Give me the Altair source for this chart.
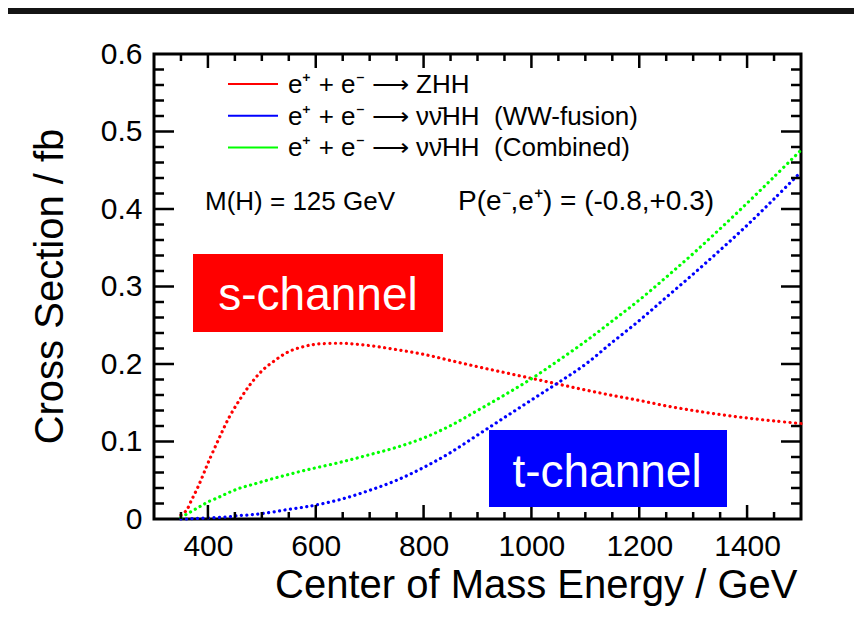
import altair as alt
import pandas as pd

# ---------------- data ----------------
energy = [350, 360, 370, 380, 390, 400, 420, 440, 460, 480, 500, 525, 550, 575, 600,
          650, 700, 750, 800, 850, 900, 950, 1000, 1050, 1100, 1150, 1200, 1250,
          1300, 1350, 1400, 1450, 1500]

zhh = [0.005, 0.011, 0.025, 0.039, 0.055, 0.072, 0.103, 0.132, 0.155, 0.175, 0.191,
       0.205, 0.216, 0.222, 0.2255, 0.2267, 0.2237, 0.2185, 0.2125, 0.2045, 0.1965,
       0.189, 0.1815, 0.174, 0.1665, 0.1595, 0.153, 0.146, 0.140, 0.1348, 0.1303,
       0.1265, 0.1232]

ww_fusion = [0.000, 0.000, 0.0005, 0.0008, 0.001, 0.0015, 0.002, 0.003, 0.0045, 0.0055,
             0.007, 0.0095, 0.0125, 0.015, 0.018, 0.026, 0.037, 0.050, 0.0665, 0.0858,
             0.1083, 0.131, 0.1535, 0.176, 0.1995, 0.228, 0.256, 0.286, 0.316, 0.347,
             0.379, 0.413, 0.448]

combined = [0.002, 0.006, 0.010, 0.014, 0.018, 0.022, 0.028, 0.0345, 0.040, 0.044,
            0.048, 0.053, 0.0575, 0.062, 0.066, 0.074, 0.083, 0.0925, 0.1045, 0.1205,
            0.140, 0.160, 0.181, 0.2045, 0.229, 0.2555, 0.2825, 0.312, 0.3425, 0.3745,
            0.4075, 0.4415, 0.476]

series_names = ["ZHH", "WW-fusion", "Combined"]
series_colors = ["#ff0000", "#0000ff", "#00ff00"]
NB = "\u00a0"
ARROW = "\u27f6"
legend_labels = ["e\u207a + e\u207b " + ARROW + " ZHH",
                 "e\u207a + e\u207b " + ARROW + " \u03bd\u03bd\u0304HH " + NB + "(WW-fusion)",
                 "e\u207a + e\u207b " + ARROW + " \u03bd\u03bd\u0304HH " + NB + "(Combined)"]
info_left = "M(H) = 125 GeV"
info_right = "P(e\u207b,e\u207a) = (-0.8,+0.3)"
box_labels = ["s-channel", "t-channel"]
box_colors = ["#ff0000", "#0000ff"]

x_ticks_major = [400, 600, 800, 1000, 1200, 1400]
x_ticks_minor = [350, 450, 500, 550, 650, 700, 750, 850, 900, 950, 1050, 1100, 1150,
                 1250, 1300, 1350, 1450]
y_ticks_major = [0.1, 0.2, 0.3, 0.4, 0.5]
y_ticks_minor = [0.02, 0.04, 0.06, 0.08, 0.12, 0.14, 0.16, 0.18, 0.22, 0.24, 0.26, 0.28,
                 0.32, 0.34, 0.36, 0.38, 0.42, 0.44, 0.46, 0.48, 0.52, 0.54, 0.56, 0.58]
y_labels = [0, 0.1, 0.2, 0.3, 0.4, 0.5, 0.6]

# ---------------- layout / style ----------------
W, H = 647, 465
FONT = "Liberation Sans"
X_DOMAIN = [300, 1500]
Y_DOMAIN = [0, 0.6]

rows = []
for name, vals in zip(series_names, [zhh, ww_fusion, combined]):
    for e, v in zip(energy, vals):
        rows.append({"E": e, "xs": v, "series": name})
curves_df = pd.DataFrame(rows)

xscale = alt.Scale(domain=X_DOMAIN, nice=False, zero=False)
yscale = alt.Scale(domain=Y_DOMAIN, nice=False, zero=False)
color_scale = alt.Scale(domain=series_names, range=series_colors)

x_axis = alt.Axis(
    values=x_ticks_major, format="d", labelFont=FONT, labelFontSize=30,
    labelColor="black", labelPadding=12, tickSize=0, ticks=False, domain=False,
    grid=False, title="Center of Mass Energy / GeV", titleFont=FONT,
    titleFontSize=40, titleFontWeight="normal", titleColor="black",
    titleAlign="right", titleBaseline="alphabetic", titleX=643, titleY=78)
y_axis = alt.Axis(
    values=y_labels, labelExpr="datum.value == 0 ? '0' : format(datum.value, '.1f')",
    labelFont=FONT, labelFontSize=30, labelColor="black", labelPadding=12,
    tickSize=0, ticks=False, domain=False, grid=False,
    title="Cross Section / fb", titleFont=FONT, titleFontSize=40,
    titleFontWeight="normal", titleColor="black", titleAngle=270,
    titleAlign="center", titleBaseline="alphabetic", titleX=-92, titleY=232)

X_ENC = alt.X("E:Q", scale=xscale, axis=x_axis)
Y_ENC = alt.Y("xs:Q", scale=yscale, axis=y_axis)

curves = alt.Chart(curves_df).mark_line(
    strokeDash=[0.1, 5.4], strokeCap="round", strokeWidth=3.2,
    interpolate="catmull-rom"
).encode(
    x=X_ENC, y=Y_ENC,
    color=alt.Color("series:N", scale=color_scale, legend=None),
    detail="series:N",
)


def ticks_x(vals, length):
    df = pd.DataFrame({"E": vals})
    bottom = alt.Chart(df).mark_rule(color="black", strokeWidth=2.5).encode(
        x=X_ENC, y=alt.value(H), y2=alt.value(H - length))
    top = alt.Chart(df).mark_rule(color="black", strokeWidth=2.5).encode(
        x=X_ENC, y=alt.value(0), y2=alt.value(length))
    return [bottom, top]


def ticks_y(vals, length):
    df = pd.DataFrame({"xs": vals})
    left = alt.Chart(df).mark_rule(color="black", strokeWidth=2.5).encode(
        y=Y_ENC, x=alt.value(0), x2=alt.value(length))
    right = alt.Chart(df).mark_rule(color="black", strokeWidth=2.5).encode(
        y=Y_ENC, x=alt.value(W - length), x2=alt.value(W))
    return [left, right]


tick_layers = (ticks_x(x_ticks_major, 14) + ticks_x(x_ticks_minor, 7)
               + ticks_y(y_ticks_major, 20) + ticks_y(y_ticks_minor, 10))

one = pd.DataFrame({"k": [0]})

# legend (inside the plot)
legend_layers = []
for i, (lab, col) in enumerate(zip(legend_labels, series_colors)):
    base_y = 39 + i * 31.7
    legend_layers.append(alt.Chart(one).mark_rule(color=col, strokeWidth=2).encode(
        x=alt.value(74), x2=alt.value(124), y=alt.value(base_y - 9)))
    legend_layers.append(alt.Chart(one).mark_text(
        text=lab, font=FONT, fontSize=26, color="black", align="left",
        baseline="alphabetic").encode(x=alt.value(134), y=alt.value(base_y)))

info_layers = [
    alt.Chart(one).mark_text(text=info_left, font=FONT, fontSize=26, color="black",
                             align="left", baseline="alphabetic").encode(
        x=alt.value(51), y=alt.value(156)),
    alt.Chart(one).mark_text(text=info_right, font=FONT, fontSize=28, color="black",
                             align="left", baseline="alphabetic").encode(
        x=alt.value(304), y=alt.value(156)),
]

# coloured boxes
box_geom = [(39, 289, 200, 278, 164, 256), (335, 573, 376, 453, 453, 433)]
box_layers = []
for lab, col, (x1, x2, y1, y2, tx, ty) in zip(box_labels, box_colors, box_geom):
    box_layers.append(alt.Chart(one).mark_rect(color=col).encode(
        x=alt.value(x1), x2=alt.value(x2), y=alt.value(y1), y2=alt.value(y2)))
    box_layers.append(alt.Chart(one).mark_text(
        text=lab, font=FONT, fontSize=46, color="white", align="center",
        baseline="alphabetic").encode(x=alt.value(tx), y=alt.value(ty)))

# dark strip at the very top of the picture
strip = alt.Chart(one).mark_rect(color="#141414").encode(
    x=alt.value(-146), x2=alt.value(700), y=alt.value(-46), y2=alt.value(-40))

chart = alt.layer(
    curves, *tick_layers, *legend_layers, *info_layers, *box_layers, strip
).properties(
    width=W, height=H,
    padding={"left": 146, "top": 46, "right": 53, "bottom": 100},
    autosize=alt.AutoSizeParams(type="none"),
    background="white",
).configure_view(stroke="black", strokeWidth=3)

chart.save("out.html", embed_options={"renderer": "svg", "actions": False})
